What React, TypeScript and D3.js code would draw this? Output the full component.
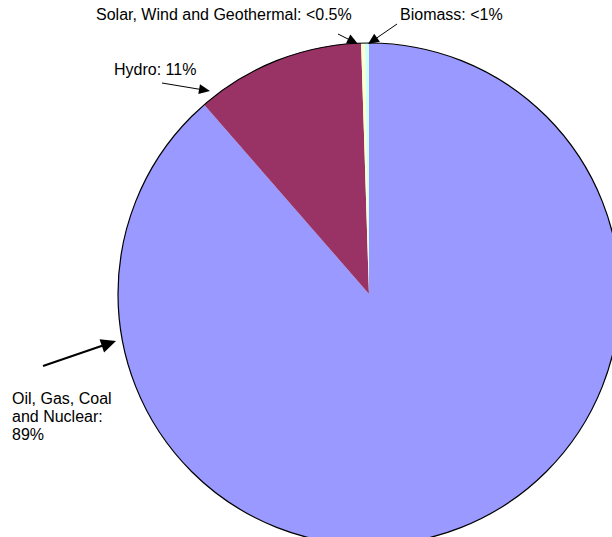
import React from "react";
import * as d3 from "d3";

// Energy sources, clockwise from 12 o'clock
const sources = ["Oil, Gas, Coal and Nuclear", "Hydro", "Solar, Wind and Geothermal", "Biomass"];
const shares = [88.6, 10.9, 0.25, 0.25];
const sliceColors = ["#9999FF", "#993366", "#FFFFCC", "#CCFFFF"];

// Callout labels (one array of lines per label)
const labelLines = [
  ["Oil, Gas, Coal", "and Nuclear:", "89%"],
  ["Hydro: 11%"],
  ["Solar, Wind and Geothermal: <0.5%"],
  ["Biomass: <1%"],
];

const W = 612;
const H = 537;
const cx = 369;
const cy = 294;
const R = 251;

type Callout = {
  text: { x: number; y: number; lines: string[] };
  from: [number, number];
  to: [number, number];
  width: number;
  head: [number, number]; // length, half-width
};

function arrowHead(from: [number, number], to: [number, number], len: number, half: number) {
  const dx = to[0] - from[0];
  const dy = to[1] - from[1];
  const d = Math.hypot(dx, dy);
  const ux = dx / d;
  const uy = dy / d;
  const bx = to[0] - ux * len;
  const by = to[1] - uy * len;
  const p1 = [bx - uy * half, by + ux * half];
  const p2 = [bx + uy * half, by - ux * half];
  return `M${to[0]},${to[1]}L${p1[0]},${p1[1]}L${p2[0]},${p2[1]}Z`;
}

export default function App() {
  const pie = d3
    .pie<number>()
    .sort(null)
    .startAngle(0)
    .endAngle(2 * Math.PI)
    .value((d) => d);
  const arcs = pie(shares);
  const arc = d3.arc<d3.PieArcDatum<number>>().innerRadius(0).outerRadius(R);

  const callouts: Callout[] = [
    {
      text: { x: 12, y: 404, lines: labelLines[0] },
      from: [43, 366],
      to: [116, 341],
      width: 2,
      head: [15, 7],
    },
    {
      text: { x: 114, y: 75, lines: labelLines[1] },
      from: [162, 83],
      to: [210, 91],
      width: 1,
      head: [11, 5],
    },
    {
      text: { x: 96, y: 20, lines: labelLines[2] },
      from: [338, 34],
      to: [358, 44],
      width: 1,
      head: [11, 5],
    },
    {
      text: { x: 400, y: 20, lines: labelLines[3] },
      from: [397, 24],
      to: [368, 44],
      width: 1,
      head: [11, 5],
    },
  ];

  return (
    <svg
      width={W}
      height={H}
      style={{ position: "absolute", left: 0, top: 0, background: "#fff" }}
      fontFamily="'Liberation Sans', Arial, sans-serif"
      fontSize={16}
    >
      <g transform={`translate(${cx},${cy})`}>
        {arcs.map((a, i) => (
          <path key={sources[i]} d={arc(a) || ""} fill={sliceColors[i]} />
        ))}
        <circle r={R} fill="none" stroke="#000" strokeWidth={1.2} />
      </g>
      {callouts.map((c, i) => (
        <g key={i}>
          <line
            x1={c.from[0]}
            y1={c.from[1]}
            x2={c.from[0] + (c.to[0] - c.from[0]) * 0.85}
            y2={c.from[1] + (c.to[1] - c.from[1]) * 0.85}
            stroke="#000"
            strokeWidth={c.width}
          />
          <path d={arrowHead(c.from, c.to, c.head[0], c.head[1])} fill="#000" />
          <text x={c.text.x} y={c.text.y} fill="#000">
            {c.text.lines.map((l, j) => (
              <tspan key={j} x={c.text.x} dy={j === 0 ? 0 : 18}>
                {l}
              </tspan>
            ))}
          </text>
        </g>
      ))}
    </svg>
  );
}
